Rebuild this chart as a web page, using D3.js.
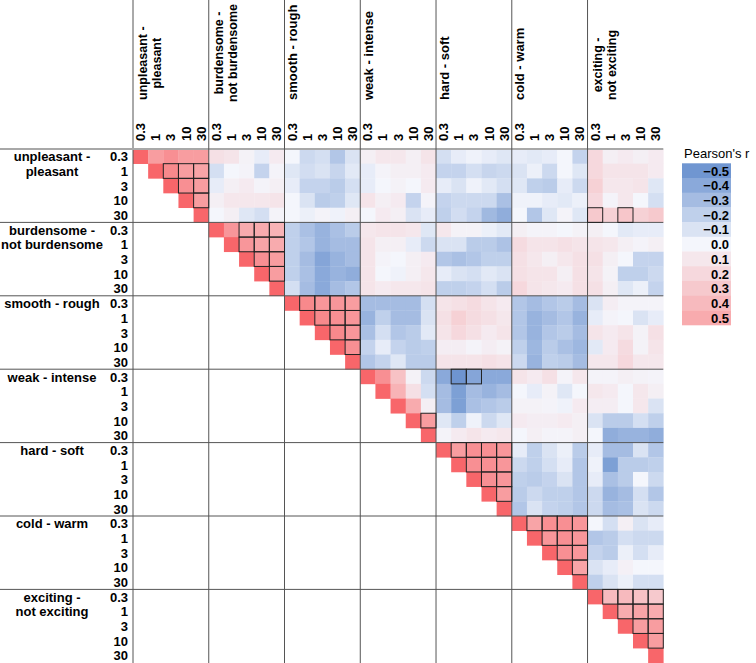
<!DOCTYPE html>
<html>
<head>
<meta charset="utf-8">
<script src="https://cdn.jsdelivr.net/npm/d3@7"></script>
<style>
body { margin: 0; background: #fff; }
text { font-family: "Liberation Sans", Arial, Helvetica, sans-serif; font-size: 13px; }
</style>
</head>
<body>
<svg id="chart" width="756" height="663"></svg>
<script>
// attributes (rows / columns), each measured at 5 frequencies
const attributes = [
    ["unpleasant -", "pleasant"],
    ["burdensome -", "not burdensome"],
    ["smooth - rough"],
    ["weak - intense"],
    ["hard - soft"],
    ["cold - warm"],
    ["exciting -", "not exciting"]
];
const freqs = ["0.3", "1", "3", "10", "30"];
const legendTicks = [-0.5, -0.4, -0.3, -0.2, -0.1, 0.0, 0.1, 0.2, 0.3, 0.4, 0.5];

// upper triangle of the correlation matrix, row i holds columns i+1 .. 34
const rUpper = [
    // unpleasant - pleasant
    [0.6,0.7,0.6,0.6, 0.15,0.12,0.03,-0.05,0.08, 0.0,-0.15,-0.12,-0.25,-0.1, 0.05,0.1,0.1,0.05,0.12, -0.12,-0.05,-0.02,-0.05,-0.08, -0.05,-0.07,-0.05,0.0,-0.18, 0.2,0.05,0.08,0.05,0.08],
    [0.75,0.6,0.55, -0.12,0.0,0.02,-0.18,0.02, -0.08,-0.13,-0.1,-0.17,-0.07, -0.05,0.02,0.05,0.05,0.08, -0.18,-0.18,-0.12,-0.17,-0.15, -0.1,-0.03,-0.15,0.0,-0.08, 0.2,0.12,0.12,0.12,0.08],
    [0.7,0.6, -0.05,0.05,0.08,0.02,0.05, -0.05,-0.18,-0.18,-0.22,-0.12, -0.05,0.0,0.03,0.0,0.08, -0.05,-0.1,-0.02,-0.07,-0.12, -0.08,-0.2,-0.22,-0.05,-0.15, 0.25,0.1,0.1,0.12,-0.08],
    [0.6, 0.05,0.1,0.1,0.1,0.12, 0.0,-0.1,-0.22,-0.2,-0.08, 0.12,0.05,0.08,-0.18,0.02, -0.18,-0.15,-0.15,-0.15,-0.28, -0.02,-0.02,-0.05,-0.07,-0.03, 0.2,0.02,0.1,0.0,-0.12],
    [0.0,0.05,-0.08,-0.12,0.02, 0.0,-0.03,0.02,-0.02,0.05, 0.0,0.08,0.05,-0.1,-0.05, -0.2,-0.13,-0.18,-0.32,-0.38, 0.0,-0.25,-0.08,0.02,-0.08, 0.3,0.25,0.32,0.25,0.3],
    // burdensome - not burdensome
    [0.65,0.5,0.5,0.45, -0.2,-0.28,-0.35,-0.28,-0.22, 0.1,0.12,0.12,0.1,-0.08, 0.1,0.03,0.03,-0.03,-0.07, 0.05,0.02,0.02,0.0,0.03, 0.05,0.0,-0.07,-0.05,-0.05],
    [0.65,0.55,0.5, -0.2,-0.25,-0.35,-0.3,-0.3, 0.12,0.05,0.05,-0.05,-0.15, -0.1,-0.1,-0.22,-0.22,-0.27, 0.18,0.12,0.12,0.15,0.12, 0.12,0.1,0.05,0.02,0.05],
    [0.7,0.6, -0.2,-0.3,-0.42,-0.35,-0.3, 0.12,0.02,0.0,0.05,0.08, -0.25,-0.28,-0.25,-0.2,-0.2, 0.15,0.1,0.05,0.1,0.15, 0.15,0.05,0.0,-0.18,-0.18],
    [0.6, -0.2,-0.28,-0.4,-0.35,-0.38, 0.12,0.0,-0.02,0.05,0.1, -0.05,-0.1,-0.12,-0.07,-0.1, 0.15,0.12,0.12,0.05,0.15, 0.12,0.03,-0.2,-0.2,-0.15],
    [-0.12,-0.3,-0.4,-0.3,-0.25, 0.12,0.08,0.1,0.1,0.12, -0.2,-0.2,-0.18,-0.12,-0.22, 0.2,0.12,0.1,0.08,0.15, 0.15,0.05,-0.08,-0.03,-0.18],
    // smooth - rough
    [0.75,0.65,0.65,0.6, -0.3,-0.3,-0.3,-0.3,-0.12, 0.12,0.15,0.18,0.12,0.08, -0.25,-0.3,-0.25,-0.22,-0.3, -0.1,0.06,0.02,0.02,0.02],
    [0.75,0.7,0.65, -0.35,-0.2,-0.3,-0.3,-0.1, 0.15,0.25,0.18,0.15,0.1, -0.25,-0.35,-0.3,-0.25,-0.35, -0.05,0.02,0.0,-0.1,-0.05],
    [0.75,0.65, -0.28,-0.12,-0.25,-0.22,-0.07, 0.12,0.2,0.15,0.08,0.12, -0.25,-0.35,-0.25,-0.22,-0.3, 0.12,0.08,0.12,0.03,0.15],
    [0.7, -0.18,-0.05,-0.18,-0.22,-0.2, 0.06,0.06,0.02,0.06,0.03, -0.2,-0.33,-0.22,-0.28,-0.33, -0.07,0.08,0.18,0.03,0.12],
    [-0.25,-0.18,-0.08,-0.22,-0.22, 0.12,0.12,0.12,0.15,0.12, -0.15,-0.35,-0.2,-0.22,-0.3, 0.1,0.1,0.2,0.1,0.1],
    // weak - intense
    [0.7,0.35,0.03,-0.15, -0.4,-0.52,-0.42,-0.4,-0.4, 0.12,0.08,0.15,0.02,0.1, 0.02,0.02,0.05,0.03,0.02],
    [0.45,0.15,-0.12, -0.3,-0.45,-0.3,-0.35,-0.3, 0.0,-0.05,0.03,-0.08,0.0, 0.1,0.08,0.0,0.1,0.05],
    [0.5,0.05, -0.3,-0.45,-0.28,-0.25,-0.22, 0.03,0.03,0.02,-0.02,0.08, 0.06,0.06,0.0,0.1,-0.1],
    [0.6, -0.08,-0.2,-0.02,-0.15,-0.08, 0.08,0.06,0.06,0.08,0.05, -0.1,-0.22,-0.22,-0.12,-0.2],
    [0.02,0.08,0.12,0.08,0.1, 0.0,0.05,0.02,0.02,0.05, 0.0,-0.38,-0.35,-0.35,-0.38],
    // hard - soft
    [0.6,0.7,0.7,0.65, -0.05,-0.2,-0.1,-0.03,-0.22, -0.05,-0.3,-0.3,-0.1,-0.25],
    [0.7,0.7,0.65, -0.15,-0.2,-0.12,-0.05,-0.25, -0.02,-0.45,-0.22,-0.22,-0.2],
    [0.7,0.65, -0.2,-0.22,-0.18,-0.1,-0.25, -0.05,-0.28,-0.22,0.0,-0.15],
    [0.6, -0.22,-0.15,-0.2,-0.2,-0.25, -0.15,-0.35,-0.3,-0.12,-0.25],
    [-0.25,-0.1,-0.18,-0.2,-0.25, -0.15,-0.3,-0.28,-0.1,-0.15],
    // cold - warm
    [0.55,0.7,0.7,0.65, 0.0,-0.12,0.05,-0.1,-0.05],
    [0.65,0.7,0.65, -0.25,-0.22,-0.12,-0.15,-0.15],
    [0.7,0.65, -0.18,-0.22,-0.03,-0.12,-0.05],
    [0.55, -0.1,-0.05,0.04,0.0,0.0],
    [-0.2,-0.1,-0.03,-0.12,-0.12],
    // exciting - not exciting
    [0.4,0.4,0.35,0.3],
    [0.5,0.55,0.5],
    [0.6,0.6],
    [0.6],
    []
];

// cells drawn with a black outline [row, column]
const sigPairs = [
    [1,2],[1,3],[1,4],[2,3],[2,4],[3,4],
    [4,30],[4,32],
    [5,7],[5,8],[5,9],[6,7],[6,8],[6,9],[7,8],[7,9],[8,9],
    [10,11],[10,12],[10,13],[10,14],[11,12],[11,13],[11,14],[12,13],[12,14],[13,14],
    [15,21],[15,22],[18,19],
    [20,21],[20,22],[20,23],[20,24],[21,22],[21,23],[21,24],[22,23],[22,24],[23,24],
    [25,26],[25,27],[25,28],[25,29],[26,27],[26,28],[26,29],[27,28],[27,29],[28,29],
    [30,31],[30,32],[30,33],[30,34],[31,32],[31,33],[31,34],[32,33],[32,34],[33,34]
];

const svg = d3.select("#chart");
const n = attributes.length * freqs.length;

const x = d3.scaleBand().domain(d3.range(n)).range([133, 663.3]);
const y = d3.scaleBand().domain(d3.range(n)).range([149, 662.8]);

const color = d3.scaleLinear()
    .domain([-1, -0.5, 0, 0.5, 1])
    .range(["#3f6fbe", "#7096d1", "#f4f6fc", "#f8abae", "#f8666a"])
    .clamp(true);

let cells = [];
for (let i = 0; i < n; i++) {
    cells.push({i: i, j: i, r: 1});
    rUpper[i].forEach(function (v, k) {
        cells.push({i: i, j: i + k + 1, r: v});
    });
}

// heat map cells
svg.append("g")
    .selectAll("rect")
    .data(cells)
    .enter()
    .append("rect")
    .attr("x", d => x(d.j))
    .attr("y", d => y(d.i))
    .attr("width", x.bandwidth() + 0.3)
    .attr("height", y.bandwidth() + 0.3)
    .attr("fill", d => color(d.r));

// block separators
let sepGrp = svg.append("g");
for (let k = 0; k < attributes.length; k++) {
    sepGrp.append("line")
        .attr("x1", x(k * 5)).attr("x2", x(k * 5))
        .attr("y1", 0).attr("y2", 663)
        .attr("stroke", "#555").attr("stroke-width", 1);
    sepGrp.append("line")
        .attr("x1", 0).attr("x2", x(n - 1) + x.bandwidth())
        .attr("y1", y(k * 5)).attr("y2", y(k * 5))
        .attr("stroke", k == 0 ? "#a8a8a8" : "#555")
        .attr("stroke-width", k == 0 ? 2 : 1);
}

// outlined cells
svg.append("g")
    .selectAll("rect")
    .data(sigPairs)
    .enter()
    .append("rect")
    .attr("x", d => x(d[1]))
    .attr("y", d => y(d[0]))
    .attr("width", x.bandwidth())
    .attr("height", y.bandwidth())
    .attr("fill", "none")
    .attr("stroke", "#222")
    .attr("stroke-width", 1);

// frequency labels, top and left
let topTicks = svg.append("g");
let leftTicks = svg.append("g");
for (let i = 0; i < n; i++) {
    topTicks.append("text")
        .attr("transform", "translate(" + (x(i) + x.bandwidth() / 2 + 4.5) + ",141) rotate(-90)")
        .attr("text-anchor", "start")
        .attr("font-weight", "bold")
        .text(freqs[i % 5]);
    leftTicks.append("text")
        .attr("x", 128)
        .attr("y", y(i) + y.bandwidth() / 2 + 5)
        .attr("text-anchor", "end")
        .attr("font-weight", "bold")
        .text(freqs[i % 5]);
}

// attribute labels
attributes.forEach(function (lines, a) {
    // column header (rotated)
    let colGrp = svg.append("g");
    if (lines.length == 1) {
        colGrp.append("text")
            .attr("transform", "translate(" + (x(a * 5) + 12.5) + ",100) rotate(-90)")
            .attr("font-weight", "bold")
            .text(lines[0]);
    } else {
        let texts = lines.map(function (l, li) {
            return colGrp.append("text")
                .attr("font-weight", "bold")
                .attr("text-anchor", "middle")
                .style("font-size", "12.5px")
                .text(l);
        });
        let maxLen = d3.max(texts, t => t.node().getComputedTextLength());
        let mid = Math.max(100 - maxLen / 2, 4 + maxLen / 2);
        texts.forEach(function (t, li) {
            t.attr("transform", "translate(" + (x(a * 5) + 14 + li * 14) + "," + mid + ") rotate(-90)");
        });
    }
    // row label
    lines.forEach(function (l, li) {
        svg.append("text")
            .attr("x", 52)
            .attr("y", y(a * 5) + y.bandwidth() / 2 + 5 + li * y.bandwidth())
            .attr("text-anchor", "middle")
            .attr("font-weight", "bold")
            .text(l);
    });
});

// legend
let legendY = d3.scaleBand().domain(d3.range(legendTicks.length)).range([163.3, 325]);
let legend = svg.append("g");
legend.append("text")
    .attr("x", 684).attr("y", 158)
    .text("Pearson's r");
legend.selectAll("rect")
    .data(legendTicks)
    .enter()
    .append("rect")
    .attr("x", 682)
    .attr("y", (d, i) => legendY(i))
    .attr("width", 49)
    .attr("height", legendY.bandwidth() + 0.3)
    .attr("fill", d => color(d));
legend.selectAll("text.lab")
    .data(legendTicks)
    .enter()
    .append("text")
    .attr("class", "lab")
    .attr("x", 729)
    .attr("y", (d, i) => legendY(i) + legendY.bandwidth() / 2 + 5)
    .attr("text-anchor", "end")
    .attr("font-weight", "bold")
    .text(d => d3.format(".1f")(d));
</script>
</body>
</html>
